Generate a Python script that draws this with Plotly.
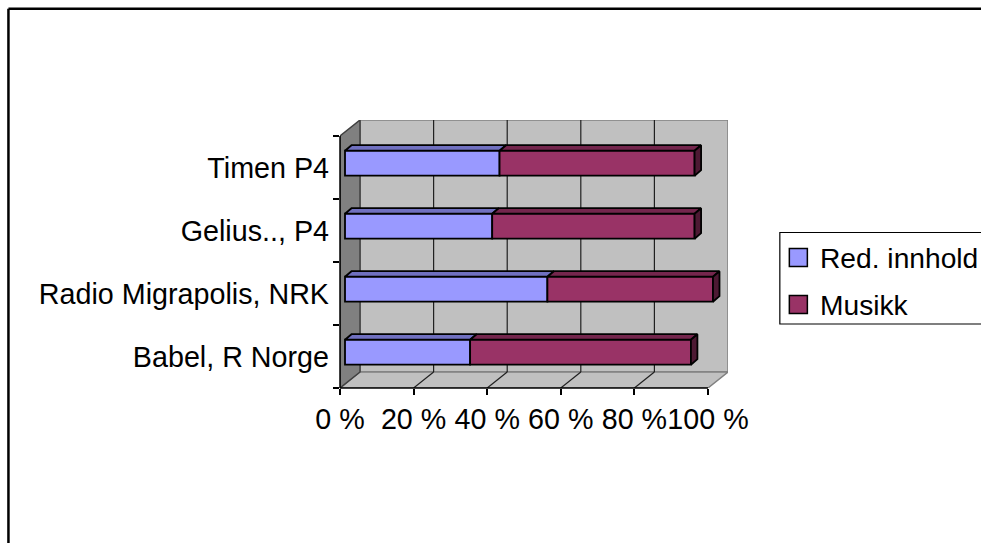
import plotly.graph_objects as go

# ---------------- data ----------------
categories = ["Babel, R Norge", "Radio Migrapolis, NRK", "Gelius.., P4", "Timen P4"]
red_innhold = [34, 55, 40, 42]
musikk = [60, 45, 55, 53]
series_names = ["Red. innhold", "Musikk"]
x_tick_values = [0, 20, 40, 60, 80, 100]
x_tick_labels = ["0 %", "20 %", "40 %", "60 %", "80 %", "100 %"]

# ---------------- style / geometry ----------------
W, H = 981, 543
PL, PR, PT, PB = 340.0, 727.7, 120.0, 388.0     # plot area in px
XMAX = 100.0
XPX = (707.7 - PL) / XMAX                       # px per x unit
DX = (PR - PL) / XPX - XMAX                     # wall depth in x units
YPX = 63.0                                      # px per category
DY = 16.0 / YPX                                 # wall depth in category units
N = len(categories)
Y0, Y1 = -0.5, N - 0.5

FRONT_X = 5.0 / XPX           # bar front face offset (x)
SHIFT_Y = 4.3 / YPX           # bar front face offset (y)
BAR_W = 25.0 / YPX
BDX = 6.5 / XPX               # bar depth
BDY = 5.5 / YPX

FONT = "Liberation Sans, Arial, sans-serif"
FS = 28.7
FS_LEG = 28.2
C_RED = "#9999FF"
C_MUS = "#993366"
C_RED_TOP = "#7070C0"
C_MUS_TOP = "#74264D"
C_MUS_SIDE = "#4D1933"
OUTLINE = 1.8


def px_x(px):
    return (px - PL) / (PR - PL)


def px_y(py):
    return (PB - py) / (PB - PT)


fig = go.Figure()

ypos = list(range(N))
off = -BAR_W / 2 + SHIFT_Y
base_red = [FRONT_X] * N
base_mus = [FRONT_X + r for r in red_innhold]

fig.add_trace(go.Bar(
    name=series_names[0], orientation="h", y=ypos, x=red_innhold, base=base_red,
    width=BAR_W, offset=off, showlegend=False,
    marker=dict(color=C_RED, line=dict(color="black", width=OUTLINE)),
))
fig.add_trace(go.Bar(
    name=series_names[1], orientation="h", y=ypos, x=musikk, base=base_mus,
    width=BAR_W, offset=off, showlegend=False,
    marker=dict(color=C_MUS, line=dict(color="black", width=OUTLINE)),
))

# 3D faces
def top_faces(bases, vals):
    xs, ys = [], []
    for i, (b, v) in enumerate(zip(bases, vals)):
        yt = i + off + BAR_W
        x0, x1 = b, b + v
        xs += [x0, x1, x1 + BDX, x0 + BDX, x0, None]
        ys += [yt, yt, yt + BDY, yt + BDY, yt, None]
    return xs, ys


for bases, vals, col in [(base_red, red_innhold, C_RED_TOP), (base_mus, musikk, C_MUS_TOP)]:
    xs, ys = top_faces(bases, vals)
    fig.add_trace(go.Scatter(x=xs, y=ys, mode="lines", fill="toself", fillcolor=col,
                             line=dict(color="black", width=OUTLINE), showlegend=False,
                             hoverinfo="skip"))

xs, ys = [], []
for i, (b, v) in enumerate(zip(base_mus, musikk)):
    yb = i + off
    yt = yb + BAR_W
    x1 = b + v
    xs += [x1, x1 + BDX, x1 + BDX, x1, x1, None]
    ys += [yb, yb + BDY, yt + BDY, yt, yb, None]
fig.add_trace(go.Scatter(x=xs, y=ys, mode="lines", fill="toself", fillcolor=C_MUS_SIDE,
                         line=dict(color="black", width=OUTLINE), showlegend=False,
                         hoverinfo="skip"))

shapes = []
# back wall
shapes.append(dict(type="rect", xref="x", yref="y", x0=DX, x1=XMAX + DX, y0=Y0 + DY, y1=Y1 + DY,
                   fillcolor="#C0C0C0", line=dict(color="#808080", width=1.5), layer="below"))
# floor
shapes.append(dict(type="path", xref="x", yref="y",
                   path=f"M0,{Y0} L{XMAX},{Y0} L{XMAX + DX},{Y0 + DY} L{DX},{Y0 + DY} Z",
                   fillcolor="#C0C0C0", line=dict(color="#808080", width=1.5), layer="below"))
# left wall
shapes.append(dict(type="path", xref="x", yref="y",
                   path=f"M0,{Y0} L0,{Y1} L{DX},{Y1 + DY} L{DX},{Y0 + DY} Z",
                   fillcolor="#808080", line=dict(color="#404040", width=1.5), layer="below"))
# grid lines
for v in x_tick_values[1:-1]:
    shapes.append(dict(type="line", xref="x", yref="y", x0=v + DX, x1=v + DX, y0=Y0 + DY, y1=Y1 + DY,
                       line=dict(color="#202020", width=1.2), layer="below"))
    shapes.append(dict(type="line", xref="x", yref="y", x0=v, x1=v + DX, y0=Y0, y1=Y0 + DY,
                       line=dict(color="#202020", width=1.2), layer="below"))
# axis lines (paper refs to avoid clipping)
shapes.append(dict(type="line", xref="paper", yref="paper", x0=0, x1=XMAX / (XMAX + DX), y0=0, y1=0,
                   line=dict(color="black", width=1.5)))
shapes.append(dict(type="line", xref="paper", yref="paper", x0=0, x1=0, y0=0, y1=N / (N + DY),
                   line=dict(color="black", width=1.5)))
# chart border (only top and left edges are inside the picture)
shapes.append(dict(type="line", xref="paper", yref="paper",
                   x0=px_x(8.7), x1=px_x(W), y0=px_y(8.7), y1=px_y(8.7),
                   line=dict(color="black", width=2.5)))
shapes.append(dict(type="line", xref="paper", yref="paper",
                   x0=px_x(8.7), x1=px_x(8.7), y0=px_y(8.7), y1=px_y(H),
                   line=dict(color="black", width=2.5)))

# legend (frame runs past the right edge of the picture)
LG_L, LG_T, LG_B = 779.5, 232.5, 324.0
shapes.append(dict(type="path", xref="paper", yref="paper",
                   path=(f"M{px_x(W)},{px_y(LG_T)} L{px_x(LG_L)},{px_y(LG_T)} "
                         f"L{px_x(LG_L)},{px_y(LG_B)} L{px_x(W)},{px_y(LG_B)}"),
                   line=dict(color="black", width=1.2)))
annotations = []
for k, (name, col) in enumerate(zip(series_names, [C_RED, C_MUS])):
    cy = 257.5 + 47 * k
    shapes.append(dict(type="rect", xref="paper", yref="paper",
                       x0=px_x(789), x1=px_x(807), y0=px_y(cy + 9), y1=px_y(cy - 9),
                       line=dict(color="black", width=1.5), fillcolor=col))
    annotations.append(dict(xref="paper", yref="paper", x=px_x(818), y=px_y(cy),
                            xanchor="left", yanchor="middle", showarrow=False, text=name,
                            font=dict(family=FONT, size=FS_LEG, color="black")))

fig.update_layout(
    width=W, height=H,
    margin=dict(l=PL, r=W - PR, t=PT, b=H - PB, autoexpand=False),
    paper_bgcolor="white", plot_bgcolor="white",
    barmode="overlay",
    font=dict(family=FONT, size=FS, color="black"),
    shapes=shapes,
    annotations=annotations,
    showlegend=False,
    xaxis=dict(range=[0, XMAX + DX], tickmode="array", tickvals=x_tick_values, ticktext=x_tick_labels,
               ticks="outside", ticklen=6, tickcolor="black", tickwidth=1.5, tickangle=0,
               showgrid=False, zeroline=False, showline=False, fixedrange=True),
    yaxis=dict(range=[Y0, Y1 + DY], tickmode="array", tickvals=ypos, ticktext=categories,
               ticks="", showgrid=False, zeroline=False, showline=False, ticklabelstandoff=10,
               minor=dict(tickmode="array", tickvals=[i - 0.5 for i in range(N + 1)],
                          ticks="outside", ticklen=6, tickcolor="black", tickwidth=1.5, showgrid=False),
               fixedrange=True),
)

fig.write_html("out.html")
